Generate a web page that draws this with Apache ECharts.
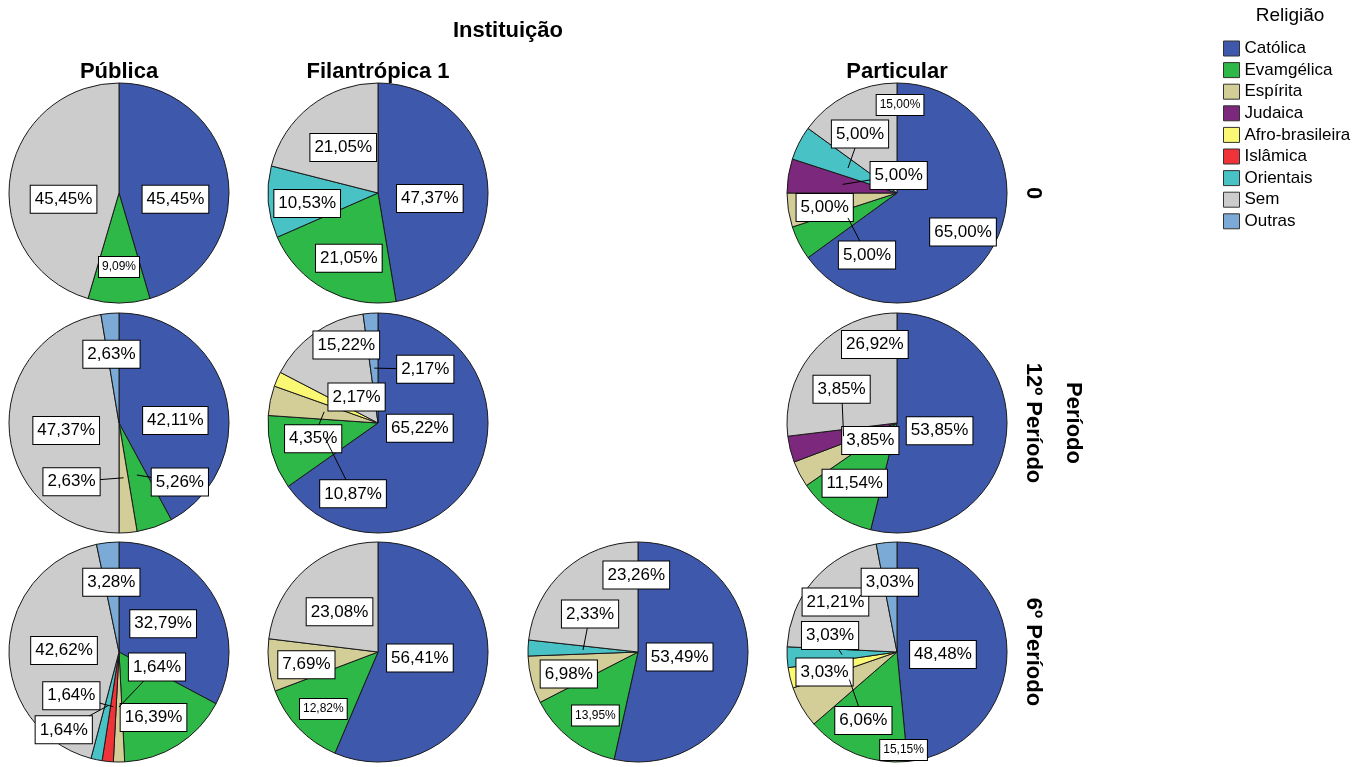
<!DOCTYPE html>
<html><head><meta charset="utf-8">
<script src="https://cdn.jsdelivr.net/npm/echarts@6/dist/echarts.min.js"></script>
<style>html,body{margin:0;padding:0;background:#fff}#chart{width:1371px;height:767px}</style>
</head><body><div id="chart"></div>
<script>
// ---------- DATA ----------
const religions = ['Católica', 'Evamgélica', 'Espírita', 'Judaica', 'Afro-brasileira', 'Islâmica', 'Orientais', 'Sem', 'Outras'];
const columnLabels = ['Pública', 'Filantrópica 1', '', 'Particular'];
const rowLabels = ['0', '12º Período', '6º Período'];
const rowVariable = 'Período';
const columnVariable = 'Instituição';
const legendTitle = 'Religião';

// percentages per panel, in the order of `religions`
const publica0        = [45.45,  9.09, 0,    0,    0,    0,    0,     45.45, 0];
const filantropica0   = [47.37, 21.05, 0,    0,    0,    0,    10.53, 21.05, 0];
const particular0     = [65.00,  5.00, 5.00, 5.00, 0,    0,    5.00,  15.00, 0];
const publica12       = [42.11,  5.26, 2.63, 0,    0,    0,    0,     47.37, 2.63];
const filantropica12  = [65.22, 10.87, 4.35, 0,    2.17, 0,    0,     15.22, 2.17];
const particular12    = [53.85, 11.54, 3.85, 3.85, 0,    0,    0,     26.92, 0];
const publica6        = [32.79, 16.39, 1.64, 0,    0,    1.64, 1.64,  42.62, 3.28];
const filantropica6   = [56.41, 12.82, 7.69, 0,    0,    0,    0,     23.08, 0];
const filantropica2_6 = [53.49, 13.95, 6.98, 0,    0,    0,    2.33,  23.26, 0];
const particular6     = [48.48, 15.15, 6.06, 0,    3.03, 0,    3.03,  21.21, 3.03];

const panels = [
  { id: 'pub0',  row: 0, col: 0, values: publica0 },
  { id: 'fil0',  row: 0, col: 1, values: filantropica0 },
  { id: 'par0',  row: 0, col: 3, values: particular0 },
  { id: 'pub12', row: 1, col: 0, values: publica12 },
  { id: 'fil12', row: 1, col: 1, values: filantropica12 },
  { id: 'par12', row: 1, col: 3, values: particular12 },
  { id: 'pub6',  row: 2, col: 0, values: publica6 },
  { id: 'fil6',  row: 2, col: 1, values: filantropica6 },
  { id: 'f2_6',  row: 2, col: 2, values: filantropica2_6 },
  { id: 'par6',  row: 2, col: 3, values: particular6 }
];

// ---------- STYLE / LAYOUT ----------
const colors = ['#3E58AC', '#2EB848', '#D3CE97', '#7C287D', '#FBF873', '#EF3338', '#48C2C5', '#CCCCCC', '#7AAAD5'];
const FONT = "'Liberation Sans', Arial, sans-serif";
const colX = [119, 378, 638, 897];
const rowY = [193, 423, 652];
const R = 110;
const LABEL_SIZE = 17, SMALL_SIZE = 12;
const LABEL_PAD = [5, 4], SMALL_PAD = [4, 3];
// label nudges (px) from the default inside position (half radius), keyed by religion index
const nudge = {
  pub0:  {0: [2, 14], 1: [0, 19], 7: [-1, 14]},
  fil0:  {0: [-3, 10], 1: [-3, 17], 6: [-16, 6], 7: [-1, -2]},
  par0:  {0: [17, 14], 1: [19, 37], 2: [-18, 6], 3: [56, -9], 6: [12, -34], 7: [28, -39]},
  pub12: {0: [3, 11], 1: [43, 7], 2: [-52, 4], 7: [2, 3], 8: [-3, -14]},
  fil12: {0: [-7, -20], 1: [28, 56], 2: [-11, 27], 4: [29, -4], 7: [0, -33], 8: [51, 1]},
  par12: {0: [-12, 1], 1: [-11, 15], 2: [22, -8], 3: [-2, -47], 7: [19, -42]},
  pub6:  {0: [-3, 0], 1: [5, 19], 2: [38, -40], 5: [-42, -11], 6: [-44, 24], 7: [0, 0], 8: [-2, -15]},
  fil6:  {0: [-12, -5], 1: [-15, 19], 2: [-17, 6], 7: [-2, 1]},
  f2_6:  {0: [-13, -1], 1: [-9, 20], 2: [-16, 8], 6: [7, -36], 7: [35, -36]},
  par6:  {0: [-9, 5], 1: [27, 47], 2: [14, 41], 4: [-19, 7], 6: [-12, -19], 7: [-20, -14], 8: [-2, -15]}
};
const leaders = { par0: [1, 3, 6], pub12: [1, 2], fil12: [1, 2, 4, 8], par12: [3], pub6: [2, 5, 6], f2_6: [6], par6: [2, 6] };
const smallLabels = { pub0: [1], par0: [7], fil6: [1], f2_6: [1], par6: [1] };

function fmt(v) { return v.toFixed(2).replace('.', ',') + '%'; }
const measureCtx = document.createElement('canvas').getContext('2d');
function textWidth(t, size) {
  measureCtx.font = size + 'px ' + FONT;
  const w = measureCtx.measureText(t).width;
  return isFinite(w) && w > 0 ? w : t.length * size * 0.55;
}

const seriesRel = [];
const seriesAnchor = [];
const leaderSegments = [];
const series = panels.map(function (p) {
  const rel = [];
  const anchors = [];
  const data = [];
  const total = p.values.reduce(function (a, b) { return a + b; }, 0);
  const cx = colX[p.col], cy = rowY[p.row];
  let cum = 0;
  p.values.forEach(function (v, i) {
    if (!v) return;
    rel.push(i);
    const mid = (cum + v / 2) / total * Math.PI * 2;
    cum += v;
    const a = [cx + R / 2 * Math.sin(mid), cy - R / 2 * Math.cos(mid)];
    anchors.push(a);
    const small = (smallLabels[p.id] || []).indexOf(i) >= 0;
    const n = (nudge[p.id] || {})[i] || [0, 0];
    if ((leaders[p.id] || []).indexOf(i) >= 0) {
      // end the leader on the border of the (moved) label box
      const size = small ? SMALL_SIZE : LABEL_SIZE, pad = small ? SMALL_PAD : LABEL_PAD;
      const hw = textWidth(fmt(v), size) / 2 + pad[1] + 0.5;
      const hh = size / 2 + pad[0] + 0.5;
      const c = [a[0] + n[0], a[1] + n[1]];
      const dx = c[0] - a[0], dy = c[1] - a[1];
      if (Math.abs(dx) > hw || Math.abs(dy) > hh) {
        const s = Math.min(dx ? hw / Math.abs(dx) : Infinity, dy ? hh / Math.abs(dy) : Infinity);
        leaderSegments.push([a[0], a[1], c[0] - dx * s, c[1] - dy * s]);
      }
    }
    const lbl = {};
    if (small) { lbl.fontSize = SMALL_SIZE; lbl.lineHeight = SMALL_SIZE; lbl.padding = [SMALL_PAD[0], SMALL_PAD[1], SMALL_PAD[0], SMALL_PAD[1]]; }
    data.push({ name: religions[i], value: v, itemStyle: { color: colors[i] }, label: lbl });
  });
  seriesRel.push(rel);
  seriesAnchor.push(anchors);
  return {
    type: 'pie', id: p.id, center: [cx, cy], radius: R,
    startAngle: 90, clockwise: true, animation: false, avoidLabelOverlap: false,
    silent: true, z: 2,
    itemStyle: { borderColor: '#1a1a1a', borderWidth: 1 },
    label: {
      show: true, position: 'inside',
      formatter: function (prm) { return fmt(prm.value); },
      color: '#000', fontFamily: FONT, fontSize: LABEL_SIZE, lineHeight: LABEL_SIZE,
      backgroundColor: '#fff', borderColor: '#000', borderWidth: 1,
      padding: [LABEL_PAD[0], LABEL_PAD[1], LABEL_PAD[0], LABEL_PAD[1]]
    },
    labelLine: { show: false },
    emphasis: { disabled: true },
    labelLayout: function (params) {
      const si2 = params.seriesIndex;
      const pid = panels[si2].id;
      const ri = seriesRel[si2][params.dataIndex];
      const a = seriesAnchor[si2][params.dataIndex];
      const n = (nudge[pid] || {})[ri] || [0, 0];
      return { x: a[0] + n[0], y: a[1] + n[1], align: 'center', verticalAlign: 'middle' };
    },
    data: data
  };
});

// leader lines: from the slice's default label point to the border of the moved label
series.push({
  type: 'custom', coordinateSystem: 'none', silent: true, animation: false, z: 5,
  data: leaderSegments,
  renderItem: function (params, api) {
    return {
      type: 'line', z2: 20,
      shape: { x1: api.value(0), y1: api.value(1), x2: api.value(2), y2: api.value(3) },
      style: { stroke: '#000', lineWidth: 1 }
    };
  }
});

function txt(t, x, y, font, rot) {
  const o = { type: 'text', x: x, y: y, silent: true,
    style: { text: t, font: font, fill: '#000', align: 'center', verticalAlign: 'middle' } };
  if (rot) o.rotation = rot;
  return o;
}
const graphic = [];
graphic.push(txt(columnVariable, (colX[0] + colX[3]) / 2, 31, 'bold 22px ' + FONT));
columnLabels.forEach(function (t, i) { if (t) graphic.push(txt(t, colX[i], 72, 'bold 22px ' + FONT)); });
rowLabels.forEach(function (t, i) { graphic.push(txt(t, 1033, rowY[i], 'bold 22px ' + FONT, -Math.PI / 2)); });
graphic.push(txt(rowVariable, 1073, rowY[1], 'bold 22px ' + FONT, -Math.PI / 2));
graphic.push(txt(legendTitle, 1290, 16, '19px ' + FONT));

const chart = echarts.init(document.getElementById('chart'), null, { renderer: 'canvas' });
chart.setOption({
  backgroundColor: '#fff',
  animation: false,
  legend: {
    data: religions, orient: 'vertical', left: 1223, top: 40, padding: 0,
    itemWidth: 16, itemHeight: 15, itemGap: 4.6, icon: 'rect', selectedMode: false,
    itemStyle: { borderColor: '#333', borderWidth: 1 },
    textStyle: { fontSize: 17, fontFamily: FONT, color: '#000' }
  },
  graphic: graphic,
  series: series
});
</script></body></html>
